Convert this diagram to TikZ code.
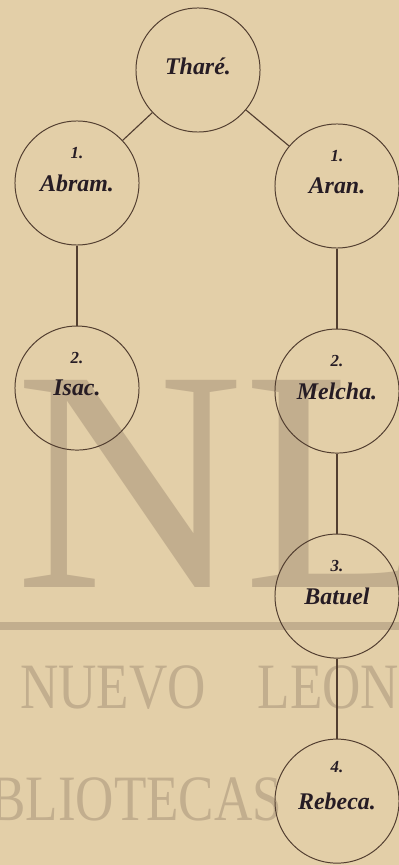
\documentclass[tikz,border=0pt]{standalone}
\usepackage{fontspec}
\setmainfont{Liberation Serif}
\newfontfamily\markfont[FakeStretch=0.82]{Liberation Serif}
\usetikzlibrary{positioning}
\definecolor{paper}{RGB}{227,207,168}
\definecolor{ink}{RGB}{38,28,36}
\definecolor{rulebrown}{RGB}{82,62,48}
\definecolor{stampgray}{RGB}{194,174,142}

\begin{document}
\begin{tikzpicture}[
  x=0.025cm, y=-0.025cm,
  node distance=2cm,
  person/.style={draw=rulebrown, circle, line width=0.7pt, minimum size=3.1cm, inner sep=0pt, text=ink, font=\fontsize{17}{17}\selectfont\bfseries\itshape},
  rank/.style={text=ink, font=\fontsize{12}{12}\selectfont\bfseries\itshape, yshift=0.75cm},
  link/.style={draw=rulebrown, line width=0.8pt},
  watermark/.style={text=stampgray, inner sep=0pt, anchor=base west}
]

% paper and library stamp
\useasboundingbox (0,0) rectangle (399,865);
\clip (0,0) rectangle (399,865);
\fill[paper] (0,0) rectangle (399,865);
\node[watermark, font=\fontsize{225}{225}\selectfont] (bigmark) at (15,587) {NL};
\fill[stampgray] (0,622) rectangle (399,630);
\node[watermark, font=\markfont\fontsize{46}{46}\selectfont] (citymark) at (20,708) {NUEVO\hspace{0.8em}LEON};
\node[watermark, font=\markfont\fontsize{46}{46}\selectfont] (libmark) at (-10,820) {BLIOTECAS};

% family
\node[person] (thare) at (198,70) {\raisebox{0.2cm}{Thar\'e.}};
\node[person, label={[rank]center:1.}] (abram) at (77,183) {Abram.};
\node[person, label={[rank]center:1.}] (aran) at (337,186) {Aran.};
\node[person, below=of abram, label={[rank]center:2.}] (isac) {Isac.};
\node[person, below=of aran, label={[rank]center:2.}] (melcha) {Melcha.};
\node[person, below=of melcha, label={[rank]center:3.}] (batuel) {Batuel};
\node[person, below=of batuel, label={[rank, yshift=0.1cm]center:4.}] (rebeca) {\raisebox{-0.15cm}{Rebeca.}};

\draw[link] (thare) -- (abram);
\draw[link] (thare) -- (aran);
\draw[link] (abram) -- (isac);
\draw[link] (aran) -- (melcha);
\draw[link] (melcha) -- (batuel);
\draw[link] (batuel) -- (rebeca);

\end{tikzpicture}
\end{document}
